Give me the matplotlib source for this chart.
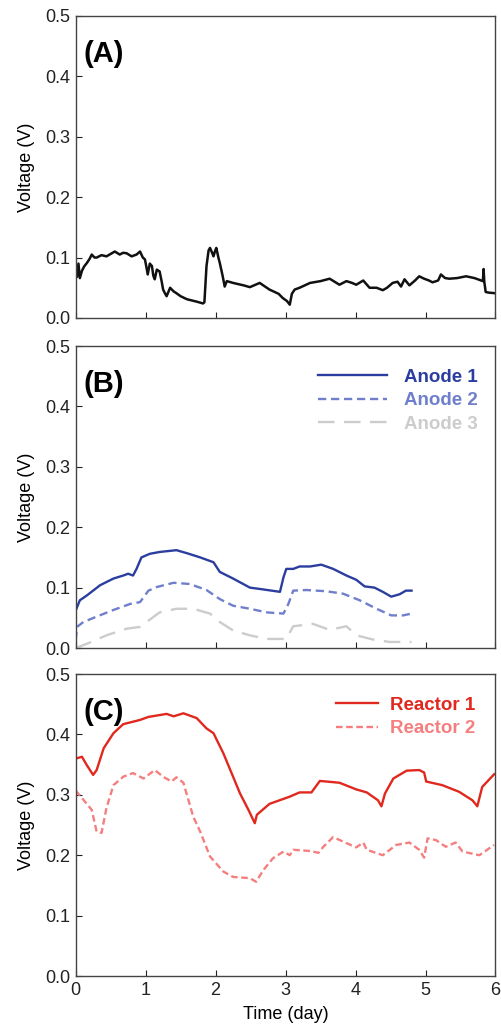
import matplotlib
matplotlib.use("Agg")
import numpy as np
from matplotlib import pyplot as plt

plt.rcParams["font.family"] = ["Liberation Sans", "DejaVu Sans"]

# panel A: single electrode voltage
a_day = [0.0, 0.02, 0.04, 0.06, 0.09, 0.12, 0.16, 0.2, 0.23, 0.27, 0.3, 0.37, 0.44, 0.5,
         0.56, 0.63, 0.68, 0.73, 0.8, 0.87, 0.92, 0.96, 0.99, 1.01, 1.03, 1.06, 1.09,
         1.11, 1.13, 1.16, 1.2, 1.23, 1.25, 1.28, 1.3, 1.35, 1.4, 1.44, 1.5, 1.59,
         1.66, 1.73, 1.82, 1.84, 1.87, 1.9, 1.92, 1.95, 1.97, 1.99, 2.01, 2.04, 2.06,
         2.1, 2.13, 2.16, 2.25, 2.4, 2.49, 2.63, 2.77, 2.9, 2.96, 3.02, 3.06, 3.09,
         3.13, 3.2, 3.35, 3.5, 3.63, 3.7, 3.77, 3.87, 3.95, 4.01, 4.11, 4.2, 4.3, 4.39,
         4.45, 4.53, 4.6, 4.65, 4.7, 4.77, 4.85, 4.91, 4.98, 5.05, 5.1, 5.18, 5.22,
         5.28, 5.34, 5.45, 5.58, 5.7, 5.82, 5.83, 5.84, 5.86, 5.9, 5.99]
a_volt = [0.088, 0.068, 0.09, 0.066, 0.078, 0.085, 0.091, 0.098, 0.105, 0.1, 0.1, 0.104,
          0.102, 0.106, 0.11, 0.105, 0.108, 0.107, 0.102, 0.105, 0.11, 0.1, 0.097, 0.085,
          0.072, 0.09, 0.086, 0.07, 0.064, 0.08, 0.077, 0.06, 0.047, 0.04, 0.036, 0.05,
          0.044, 0.041, 0.036, 0.031, 0.029, 0.027, 0.024, 0.026, 0.086, 0.112, 0.116,
          0.108, 0.102, 0.11, 0.116, 0.1, 0.091, 0.07, 0.052, 0.061, 0.058, 0.054, 0.051,
          0.058, 0.047, 0.04, 0.033, 0.028, 0.022, 0.04, 0.047, 0.05, 0.058, 0.061, 0.065,
          0.06, 0.055, 0.061, 0.058, 0.055, 0.062, 0.05, 0.05, 0.046, 0.05, 0.058, 0.06,
          0.052, 0.064, 0.054, 0.062, 0.069, 0.065, 0.062, 0.059, 0.062, 0.072, 0.066,
          0.065, 0.066, 0.069, 0.066, 0.061, 0.081, 0.06, 0.043, 0.042, 0.041]

# panel B: three anodes
b1_day = [0.0, 0.06, 0.16, 0.35, 0.54, 0.68, 0.75, 0.82, 0.87, 0.94, 1.06, 1.2, 1.44,
          1.59, 1.78, 1.97, 2.06, 2.25, 2.49, 2.68, 2.92, 2.97, 3.01, 3.11, 3.2, 3.35,
          3.51, 3.68, 3.87, 4.01, 4.13, 4.27, 4.39, 4.51, 4.63, 4.72, 4.8]
b1_volt = [0.062, 0.079, 0.087, 0.104, 0.115, 0.12, 0.123, 0.12, 0.131, 0.15, 0.156,
           0.159, 0.162, 0.157, 0.15, 0.142, 0.126, 0.115, 0.1, 0.097, 0.093, 0.117,
           0.131, 0.131, 0.135, 0.135, 0.138, 0.131, 0.12, 0.113, 0.102, 0.1, 0.093,
           0.085, 0.089, 0.095, 0.095]
b2_day = [0.0, 0.02, 0.11, 0.3, 0.54, 0.78, 0.92, 1.04, 1.16, 1.4, 1.63, 1.87, 2.06,
          2.25, 2.49, 2.73, 2.97, 3.04, 3.11, 3.3, 3.58, 3.82, 4.06, 4.3, 4.51, 4.68, 4.8]
b2_volt = [0.013, 0.035, 0.043, 0.052, 0.063, 0.073, 0.076, 0.095, 0.101, 0.108, 0.106,
           0.096, 0.081, 0.07, 0.065, 0.059, 0.057, 0.073, 0.095, 0.096, 0.094, 0.09,
           0.079, 0.065, 0.054, 0.054, 0.057]
b3_day = [0.0, 0.16, 0.44, 0.73, 0.92, 1.06, 1.2, 1.44, 1.68, 1.92, 2.06, 2.25, 2.49,
          2.73, 3.01, 3.11, 3.39, 3.63, 3.87, 4.01, 4.25, 4.49, 4.8]
b3_volt = [0.0, 0.007, 0.021, 0.032, 0.035, 0.047, 0.059, 0.065, 0.065, 0.057, 0.043,
           0.029, 0.021, 0.015, 0.015, 0.036, 0.04, 0.03, 0.036, 0.021, 0.014, 0.01, 0.01]

# panel C: two reactors
c1_day = [0.0, 0.09, 0.16, 0.25, 0.3, 0.4, 0.54, 0.68, 0.92, 1.04, 1.3, 1.4, 1.54, 1.73,
          1.87, 1.97, 2.11, 2.25, 2.35, 2.47, 2.56, 2.59, 2.77, 3.06, 3.2, 3.37, 3.49,
          3.77, 4.01, 4.16, 4.32, 4.37, 4.42, 4.54, 4.73, 4.91, 4.98, 5.01, 5.24, 5.48,
          5.67, 5.74, 5.81, 5.98]
c1_volt = [0.36, 0.363, 0.349, 0.333, 0.341, 0.377, 0.402, 0.417, 0.424, 0.429, 0.434,
           0.43, 0.435, 0.427, 0.41, 0.402, 0.369, 0.33, 0.302, 0.275, 0.253, 0.267,
           0.285, 0.297, 0.304, 0.304, 0.323, 0.32, 0.309, 0.304, 0.291, 0.281, 0.302,
           0.327, 0.34, 0.341, 0.337, 0.322, 0.316, 0.305, 0.291, 0.281, 0.313, 0.334]
c2_day = [0.0, 0.16, 0.23, 0.3, 0.37, 0.44, 0.54, 0.68, 0.82, 0.97, 1.13, 1.25, 1.37,
          1.44, 1.54, 1.68, 1.78, 1.92, 2.11, 2.25, 2.49, 2.58, 2.68, 2.82, 2.97, 3.06,
          3.11, 3.35, 3.47, 3.54, 3.68, 3.87, 4.01, 4.11, 4.16, 4.39, 4.58, 4.77, 4.91,
          4.98, 5.03, 5.15, 5.29, 5.43, 5.53, 5.77, 5.98]
c2_volt = [0.307, 0.285, 0.275, 0.239, 0.237, 0.278, 0.316, 0.33, 0.336, 0.327, 0.341,
           0.33, 0.322, 0.329, 0.32, 0.264, 0.239, 0.198, 0.173, 0.164, 0.162, 0.156,
           0.175, 0.195, 0.206, 0.2, 0.209, 0.207, 0.204, 0.214, 0.23, 0.22, 0.213, 0.221,
           0.209, 0.2, 0.217, 0.221, 0.209, 0.196, 0.228, 0.225, 0.214, 0.221, 0.206,
           0.2, 0.217]

panel_tags = ["(A)", "(B)", "(C)"]
y_ticks = [0.0, 0.1, 0.2, 0.3, 0.4, 0.5]
x_ticks = [0, 1, 2, 3, 4, 5, 6]

fig = plt.figure(figsize=(5.01, 10.25), dpi=100)
left, width = 0.151, 0.838
bottoms = [0.6898, 0.3678, 0.0478]
height = 0.2946
axes = [fig.add_axes([left, b, width, height]) for b in bottoms]

for i, ax in enumerate(axes):
    ax.set_xlim(0, 6)
    ax.set_ylim(0, 0.5)
    ax.set_xticks(x_ticks)
    ax.set_yticks(y_ticks)
    ax.set_yticklabels([f"{t:.1f}" for t in y_ticks])
    ax.tick_params(direction="in", length=4, width=0.8, labelsize=13, pad=4,
                   top=False, right=False, colors="#222222")
    for s in ax.spines.values():
        s.set_color("#444444")
        s.set_linewidth(1.0)
    ax.set_ylabel("Voltage (V)", fontsize=13, labelpad=7)
    ax.text(0.018, 0.874, panel_tags[i], transform=ax.transAxes, fontsize=21,
            fontweight="bold", ha="left", va="center")
    if i < 2:
        ax.tick_params(labelbottom=False)

axes[0].plot(a_day, a_volt, color="#111111", lw=1.8)

axes[1].plot(b1_day, b1_volt, color="#2b3d9e", lw=1.7, label="Anode 1")
axes[1].plot(b2_day, b2_volt, color="#6f7fcc", lw=1.7, dashes=(3.5, 2), label="Anode 2")
axes[1].plot(b3_day, b3_volt, color="#cccccc", lw=1.7, dashes=(7, 4), label="Anode 3")
axes[1].legend(loc="upper right", bbox_to_anchor=(1.012, 1.0), frameon=False,
               handlelength=3.7, handletextpad=0.9, labelspacing=0.35, borderaxespad=0.8,
               labelcolor="linecolor", prop={"weight": "bold", "size": 13.5})

axes[2].plot(c1_day, c1_volt, color="#e0281e", lw=1.7, label="Reactor 1")
axes[2].plot(c2_day, c2_volt, color="#f57f7f", lw=1.7, dashes=(2.8, 1.5), label="Reactor 2")
axes[2].legend(loc="upper right", bbox_to_anchor=(1.005, 1.0), frameon=False,
               handlelength=2.2, handletextpad=0.65, labelspacing=0.35, borderaxespad=0.8,
               labelcolor="linecolor", prop={"weight": "bold", "size": 13.5})
axes[2].set_xlabel("Time (day)", fontsize=13, labelpad=5)

fig.savefig("out.png", dpi=100)
